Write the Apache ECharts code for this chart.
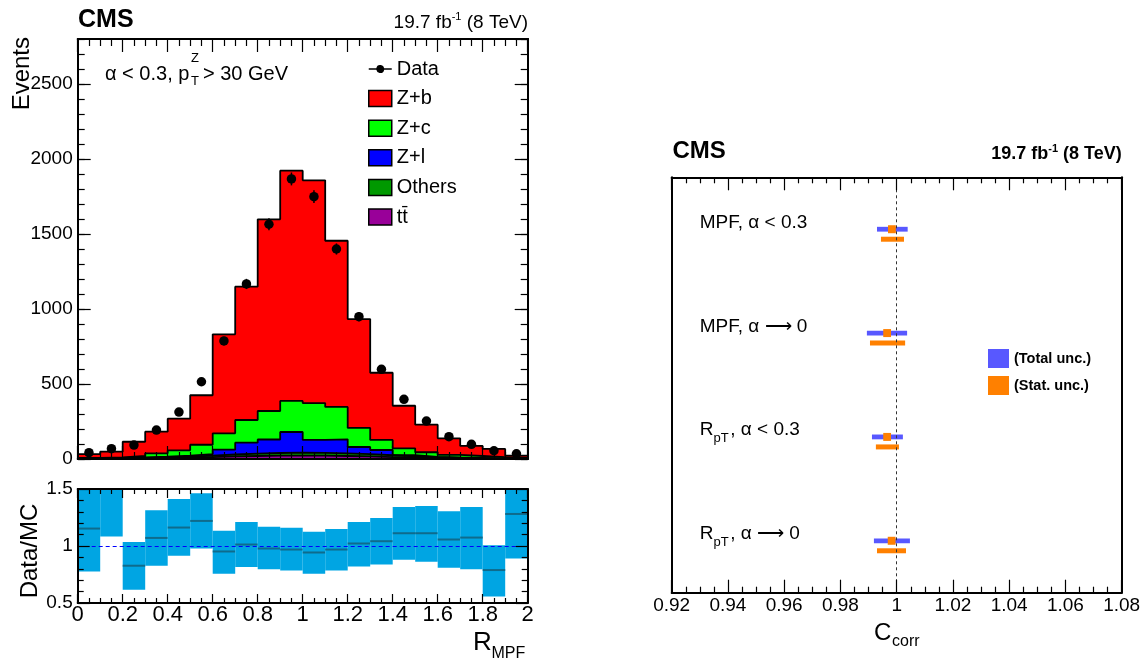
<!DOCTYPE html>
<html>
<head>
<meta charset="utf-8">
<title>R_MPF and C_corr</title>
<script src="https://cdn.jsdelivr.net/npm/echarts@6/dist/echarts.min.js"></script>
<style>
  html, body { margin: 0; padding: 0; background: #fff; }
  #chart { width: 1145px; height: 662px; }
</style>
</head>
<body>
<div id="chart"></div>
<script>
var FONT = 'Liberation Sans, Arial, Helvetica, sans-serif';

// R_MPF bin edges (20 bins)
var binEdges = [0, 0.1, 0.2, 0.3, 0.4, 0.5, 0.6, 0.7, 0.8, 0.9, 1.0, 1.1, 1.2, 1.3, 1.4, 1.5, 1.6, 1.7, 1.8, 1.9, 2.0];

// stacked MC (events per bin), bottom of the stack first
var ttbar   = [2, 3, 4, 6, 9, 13, 17, 20, 22, 22, 22, 20, 17, 13, 10, 7, 5, 3, 2, 1];
var others  = [2, 3, 4, 5, 6, 9, 13, 16, 18, 20, 19, 18, 15, 12, 8, 5, 3, 2, 1, 1];
var zLight  = [1, 2, 3, 5, 7, 11, 32, 73, 90, 138, 86, 93, 48, 35, 7, 2, 2, 2, 1, 1];
var zCharm  = [3, 2, 9, 22, 36, 62, 109, 151, 190, 207, 246, 216, 127, 67, 46, 31, 17, 13, 8, 5];
var zBottom = [25, 39, 95, 144, 211, 330, 660, 889, 1278, 1535, 1485, 1108, 726, 448, 284, 184, 111, 67, 55, 14];

// data
var dataEvents = [42, 69, 93, 193, 313, 515, 787, 1167, 1565, 1867, 1749, 1400, 949, 598, 398, 253, 149, 98, 55, 35];
var dataErr    = [6, 8, 10, 14, 18, 23, 28, 34, 40, 43, 42, 37, 31, 24, 20, 16, 12, 10, 7, 6];

// Data/MC
var ratioVal  = [1.153, 1.60, 0.827, 1.071, 1.162, 1.220, 0.952, 1.013, 0.978, 0.969, 0.943, 0.969, 1.022, 1.042, 1.112, 1.112, 1.057, 1.074, 0.789, 1.281];
var ratioLow  = [0.777, 1.083, 0.617, 0.827, 0.914, 0.978, 0.757, 0.815, 0.797, 0.786, 0.757, 0.786, 0.821, 0.838, 0.879, 0.862, 0.809, 0.797, 0.558, 0.891];
var ratioHigh = [1.53, 2.10, 1.036, 1.313, 1.413, 1.462, 1.133, 1.211, 1.168, 1.159, 1.124, 1.150, 1.211, 1.246, 1.343, 1.351, 1.305, 1.343, 1.007, 1.67];

// C_corr results, top to bottom
var corrLabels = ['MPF, α < 0.3', 'MPF, α ⟶ 0', 'R_pT, α < 0.3', 'R_pT, α ⟶ 0'];
var corrVal  = [0.9983, 0.9966, 0.9966, 0.9982];
var totLow   = [0.9930, 0.9894, 0.9912, 0.9919];
var totHigh  = [1.0039, 1.0037, 1.0022, 1.0047];
var statLow  = [0.9944, 0.9905, 0.9926, 0.9930];
var statHigh = [1.0026, 1.0030, 1.0008, 1.0033];

function stepData(vals) {
    return binEdges.map(function (e, i) {
        return [e, vals[Math.min(i, vals.length - 1)]];
    });
}
function binCenter(i) {
    return (binEdges[i] + binEdges[i + 1]) / 2;
}

function frameAxis(gridIndex, position, min, max, interval, tickLen, minorSplit, minorLen, label) {
    return {
        type: 'value', gridIndex: gridIndex, position: position,
        min: min, max: max, interval: interval, z: 5,
        axisLine: { show: true, onZero: false, lineStyle: { color: '#000', width: 2 } },
        axisTick: { show: tickLen > 0, inside: true, length: tickLen, lineStyle: { color: '#000', width: 1.2 } },
        minorTick: { show: minorSplit > 0, splitNumber: minorSplit || 5, length: minorLen, lineStyle: { color: '#000', width: 1.2 } },
        axisLabel: label ? Object.assign({ show: true, color: '#000', fontFamily: FONT, formatter: function (v) { return String(+v.toFixed(4)); } }, label) : { show: false },
        splitLine: { show: false }
    };
}

function histSeries(name, vals, color) {
    return {
        type: 'line', name: name, step: 'end',
        xAxisIndex: 0, yAxisIndex: 0, z: 2,
        data: stepData(vals),
        symbol: 'none', showSymbol: false,
        itemStyle: { color: color },
        lineStyle: { color: '#000', width: 1.8 },
        areaStyle: { color: color, opacity: 1, origin: 'start' }
    };
}

// running sums give the top edge of each layer; drawn top layer first so lower layers sit in front
var stackParts = [
    ['t\u0074\u0304', ttbar, '#990099'],
    ['Others', others, '#009900'],
    ['Z+l', zLight, '#0000ff'],
    ['Z+c', zCharm, '#00ff00'],
    ['Z+b', zBottom, '#ff0000']
];
var running = zBottom.map(function () { return 0; });
var histList = stackParts.map(function (p) {
    running = running.map(function (r, i) { return r + p[1][i]; });
    return histSeries(p[0], running, p[2]);
}).reverse();

// text pieces for the C_corr row labels (R with subscript pT)
function labelPieces(label, x, y) {
    var st = { fontSize: 19, fontFamily: FONT, fill: '#000', align: 'left', verticalAlign: 'middle' };
    if (label.indexOf('R_pT') === 0) {
        return [
            { type: 'text', x: x, y: y, style: Object.assign({}, st, { text: 'R' }) },
            { type: 'text', x: x + 13.7, y: y + 8, style: Object.assign({}, st, { text: 'pT', fontSize: 13 }) },
            { type: 'text', x: x + 30.5, y: y, style: Object.assign({}, st, { text: label.slice(4) }) }
        ];
    }
    return [{ type: 'text', x: x, y: y, style: Object.assign({}, st, { text: label }) }];
}

function txt(x, y, text, size, extra) {
    return {
        type: 'text', x: x, y: y, z: 10,
        style: Object.assign({ text: text, fontSize: size, fontFamily: FONT, fill: '#000', align: 'left', verticalAlign: 'middle' }, extra || {})
    };
}

var lumiRich = function (size, sup, weight) {
    return {
        a: { fontSize: size, lineHeight: size + 3, fontFamily: FONT, fontWeight: weight },
        s: { fontSize: sup, lineHeight: sup, fontFamily: FONT, fontWeight: weight, verticalAlign: 'top' }
    };
};

var dataIcon = 'path://M0,7.3H7.56A4,4,0,0,1,15.44,7.3H23V8.7H15.44A4,4,0,0,1,7.56,8.7H0Z';

var myChart = echarts.init(document.getElementById('chart'), null, { renderer: 'canvas' });

myChart.setOption({
    animation: false,
    backgroundColor: '#fff',
    textStyle: { fontFamily: FONT },
    grid: [
        { left: 77.7, top: 39, width: 450, height: 420, outerBoundsMode: 'none' },
        { left: 77.7, top: 489, width: 450, height: 114, outerBoundsMode: 'none' },
        { left: 671.7, top: 177.3, width: 450, height: 415.4, outerBoundsMode: 'none' }
    ],
    xAxis: [
        frameAxis(0, 'bottom', 0, 2, 0.2, 13, 4, 7, null),
        frameAxis(0, 'top', 0, 2, 0.2, 13, 4, 7, null),
        frameAxis(1, 'bottom', 0, 2, 0.2, 9, 4, 5, { fontSize: 22, margin: 1 }),
        frameAxis(1, 'top', 0, 2, 0.2, 9, 4, 5, null),
        frameAxis(2, 'bottom', 0.92, 1.08, 0.02, 13, 4, 6, { fontSize: 19, margin: 4 }),
        frameAxis(2, 'top', 0.92, 1.08, 0.02, 13, 4, 6, null)
    ],
    yAxis: [
        frameAxis(0, 'left', 0, 2800, 500, 13, 0, 0, { fontSize: 19, margin: 5, showMaxLabel: false }),
        frameAxis(0, 'left', 0, 2800, 100, 7, 0, 0, null),
        frameAxis(0, 'right', 0, 2800, 500, 13, 0, 0, null),
        frameAxis(0, 'right', 0, 2800, 100, 7, 0, 0, null),
        frameAxis(1, 'left', 0.5, 1.5, 0.5, 12, 5, 6, { fontSize: 19, margin: 5 }),
        frameAxis(1, 'right', 0.5, 1.5, 0.5, 12, 5, 6, null),
        Object.assign(frameAxis(2, 'left', -0.5, 3.5, 1, 0, 0, 0, null), { inverse: true }),
        Object.assign(frameAxis(2, 'right', -0.5, 3.5, 1, 0, 0, 0, null), { inverse: true })
    ],
    legend: [
        {
            orient: 'vertical', left: 368, top: 59, padding: 0,
            itemWidth: 23, itemHeight: 16, itemGap: 9.6, selectedMode: false,
            textStyle: { fontSize: 20, color: '#000', fontFamily: FONT, lineHeight: 16 },
            data: [
                { name: 'Data', icon: dataIcon, itemStyle: { color: '#000', borderWidth: 0, opacity: 1 } },
                { name: 'Z+b', icon: 'rect', itemStyle: { color: '#ff0000', borderColor: '#000', borderWidth: 1.5 } },
                { name: 'Z+c', icon: 'rect', itemStyle: { color: '#00ff00', borderColor: '#000', borderWidth: 1.5 } },
                { name: 'Z+l', icon: 'rect', itemStyle: { color: '#0000ff', borderColor: '#000', borderWidth: 1.5 } },
                { name: 'Others', icon: 'rect', itemStyle: { color: '#009900', borderColor: '#000', borderWidth: 1.5 } },
                { name: 't\u0074\u0304', icon: 'rect', itemStyle: { color: '#990099', borderColor: '#000', borderWidth: 1.5 } }
            ]
        },
        {
            orient: 'vertical', left: 988, top: 349, padding: 0,
            itemWidth: 21, itemHeight: 19, itemGap: 8, selectedMode: false,
            textStyle: { fontSize: 14.5, fontWeight: 'bold', color: '#000', fontFamily: FONT, lineHeight: 19 },
            data: [
                { name: '(Total unc.)', icon: 'rect', itemStyle: { color: '#5858ff', borderWidth: 0 } },
                { name: '(Stat. unc.)', icon: 'rect', itemStyle: { color: '#ff8000', borderWidth: 0 } }
            ]
        }
    ],
    graphic: [
        txt(78, 20, 'CMS', 25, { fontWeight: 'bold' }),
        txt(528, 22.5, '{a|19.7 fb}{s|-1}{a| (8 TeV)}', 19, { align: 'right', rich: lumiRich(19, 11, 'normal') }),
        Object.assign(txt(22, 37, 'Events', 24, { align: 'right' }), { rotation: Math.PI / 2 }),
        txt(105, 74, 'α < 0.3, p', 20),
        txt(191, 58, 'Z', 13),
        txt(191, 81.5, 'T', 13),
        txt(203, 74, '> 30 GeV', 20),
        Object.assign(txt(30, 551, 'Data/MC', 24, { align: 'center' }), { rotation: Math.PI / 2 }),
        txt(473, 642.5, 'R', 26),
        txt(491.5, 654, 'MPF', 16),
        txt(672.5, 151.5, 'CMS', 24, { fontWeight: 'bold' }),
        txt(1121.7, 154, '{a|19.7 fb}{s|-1}{a| (8 TeV)}', 18, { align: 'right', rich: lumiRich(18, 11, 'bold') }),
        txt(874, 633, 'C', 24),
        txt(892, 641.5, 'corr', 16)
    ],
    series: histList.concat([
        {
            type: 'custom', xAxisIndex: 0, yAxisIndex: 0, z: 3, silent: true,
            data: dataEvents.map(function (v, i) { return [binCenter(i), v, dataErr[i]]; }),
            renderItem: function (params, api) {
                var top = api.coord([api.value(0), api.value(1) + api.value(2)]);
                var bot = api.coord([api.value(0), api.value(1) - api.value(2)]);
                return {
                    type: 'line',
                    shape: { x1: top[0], y1: top[1], x2: bot[0], y2: bot[1] },
                    style: { stroke: '#000', lineWidth: 1.5 }
                };
            }
        },
        {
            type: 'scatter', name: 'Data', xAxisIndex: 0, yAxisIndex: 0, z: 4,
            symbol: 'circle', symbolSize: 9.5,
            itemStyle: { color: '#000', opacity: 1 },
            data: dataEvents.map(function (v, i) { return [binCenter(i), v]; })
        },
        {
            type: 'custom', xAxisIndex: 2, yAxisIndex: 4, z: 2, clip: true, silent: true,
            data: ratioVal.map(function (v, i) { return [binEdges[i], binEdges[i + 1], ratioLow[i], ratioHigh[i], v]; }),
            encode: { x: [0, 1], y: [2, 3, 4] },
            renderItem: function (params, api) {
                var p0 = api.coord([api.value(0), api.value(3)]);
                var p1 = api.coord([api.value(1), api.value(2)]);
                var c0 = api.coord([api.value(0), api.value(4)]);
                var c1 = api.coord([api.value(1), api.value(4)]);
                return {
                    type: 'group',
                    children: [
                        { type: 'rect', shape: { x: p0[0], y: p0[1], width: p1[0] - p0[0], height: p1[1] - p0[1] }, style: { fill: '#00a5e3' } },
                        { type: 'line', shape: { x1: c0[0], y1: c0[1], x2: c1[0], y2: c1[1] }, style: { stroke: '#0f6b8c', lineWidth: 2 } }
                    ]
                };
            },
            markLine: {
                silent: true, symbol: 'none', label: { show: false },
                lineStyle: { color: '#0000ff', type: [4, 3], width: 1 },
                data: [{ yAxis: 1 }]
            }
        },
        {
            type: 'custom', name: '(Total unc.)', xAxisIndex: 4, yAxisIndex: 6, z: 3, silent: true,
            itemStyle: { color: '#5858ff' },
            data: corrLabels.map(function (l, i) { return [totLow[i], totHigh[i], i]; }),
            encode: { x: [0, 1], y: 2 },
            renderItem: function (params, api) {
                var a = api.coord([api.value(0), api.value(2)]);
                var b = api.coord([api.value(1), api.value(2)]);
                var kids = [
                    { type: 'rect', shape: { x: a[0], y: a[1] - 2.4, width: b[0] - a[0], height: 4.8 }, style: { fill: '#5858ff' } }
                ];
                return { type: 'group', children: kids.concat(labelPieces(corrLabels[params.dataIndex], params.coordSys.x + 28, a[1] - 6.7)) };
            },
            markLine: {
                silent: true, symbol: 'none', label: { show: false },
                lineStyle: { color: '#333', type: [3, 3], width: 1 },
                data: [{ xAxis: 1 }]
            }
        },
        {
            type: 'custom', name: '(Stat. unc.)', xAxisIndex: 4, yAxisIndex: 6, z: 4, silent: true,
            itemStyle: { color: '#ff8000' },
            data: corrLabels.map(function (l, i) { return [statLow[i], statHigh[i], i, corrVal[i]]; }),
            encode: { x: [0, 1, 3], y: 2 },
            renderItem: function (params, api) {
                var a = api.coord([api.value(0), api.value(2)]);
                var b = api.coord([api.value(1), api.value(2)]);
                var c = api.coord([api.value(3), api.value(2)]);
                return {
                    type: 'group',
                    children: [
                        { type: 'rect', shape: { x: a[0], y: a[1] + 10 - 2.5, width: b[0] - a[0], height: 5 }, style: { fill: '#ff8000' } },
                        { type: 'rect', shape: { x: c[0] - 3.9, y: c[1] - 4, width: 7.8, height: 8 }, style: { fill: '#ff8000' } }
                    ]
                };
            }
        }
    ])
});
</script>
</body>
</html>
